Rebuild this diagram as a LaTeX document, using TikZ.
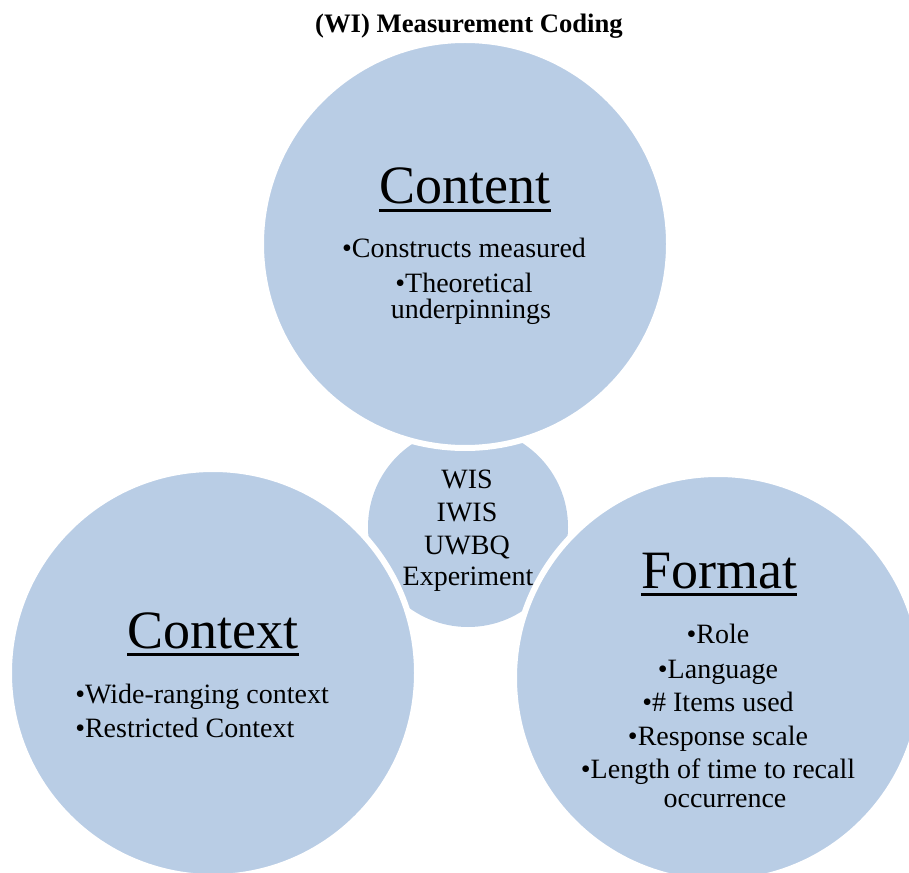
\documentclass[tikz,border=0pt]{standalone}
\usepackage{fontspec}
\setmainfont{Liberation Serif}
\definecolor{bubbleblue}{RGB}{185,205,229}
\begin{document}
\begin{tikzpicture}[x=0.75pt,y=-0.75pt,
  big/.style={circle, fill=bubbleblue, draw=white, line width=4.5pt,
    inner sep=0pt, minimum size=306pt},
  hub/.style={circle, fill=bubbleblue, inner sep=0pt, minimum size=150pt},
  heading/.style={anchor=base, inner sep=0pt, font=\fontsize{40.5}{44}\selectfont},
  item/.style={anchor=base, inner sep=0pt, font=\fontsize{21}{24}\selectfont},
  itemleft/.style={item, anchor=base west},
  underl/.style={line width=2.5pt},
  titletext/.style={anchor=base, inner sep=0pt, font=\fontsize{20}{24}\selectfont\bfseries}]

\useasboundingbox (0,0) rectangle (909,873);
\clip (0,0) rectangle (909,873);

% central hub, partly covered by the three large circles
\node[hub] (hub) at (468,527) {};

% the three large circles with white rims
\node[big] (content) at (465,244) {};
\node[big] (context) at (213,673) {};
\node[big] (format)  at (718,678) {};

% title
\node[titletext] (title) at (469,33) {(WI) Measurement Coding};

% hub labels
\node[item] (wis)  at (467,488) {WIS};
\node[item] (iwis) at (467,521) {IWIS};
\node[item] (uwbq) at (467,554) {UWBQ};
\node[item] (expt) at (468,585) {Experiment};

% Content
\node[heading] (hcontent) at (465,204) {Content};
\draw[underl] ([yshift=-4.7pt]hcontent.base west) -- ([yshift=-4.7pt]hcontent.base east);
\node[item] (c1)  at (464,258) {•Constructs measured};
\node[item] (c2)  at (464,292) {•Theoretical};
\node[item] (c2b) at (471,319) {underpinnings};

% Context
\node[heading] (hcontext) at (213,648) {Context};
\draw[underl] ([yshift=-4.7pt]hcontext.base west) -- ([yshift=-4.7pt]hcontext.base east);
\node[itemleft] (x1) at (75,703) {•Wide-ranging context};
\node[itemleft] (x2) at (75,737) {•Restricted Context};

% Format
\node[heading] (hformat) at (719,588) {Format};
\draw[underl] ([yshift=-4.7pt]hformat.base west) -- ([yshift=-4.7pt]hformat.base east);
\node[item] (f1)  at (718,643) {•Role};
\node[item] (f2)  at (718,678) {•Language};
\node[item] (f3)  at (718,711) {•\# Items used};
\node[item] (f4)  at (718,745) {•Response scale};
\node[item] (f5)  at (718,778) {•Length of time to recall};
\node[item] (f5b) at (725,807) {occurrence};
\end{tikzpicture}
\end{document}
